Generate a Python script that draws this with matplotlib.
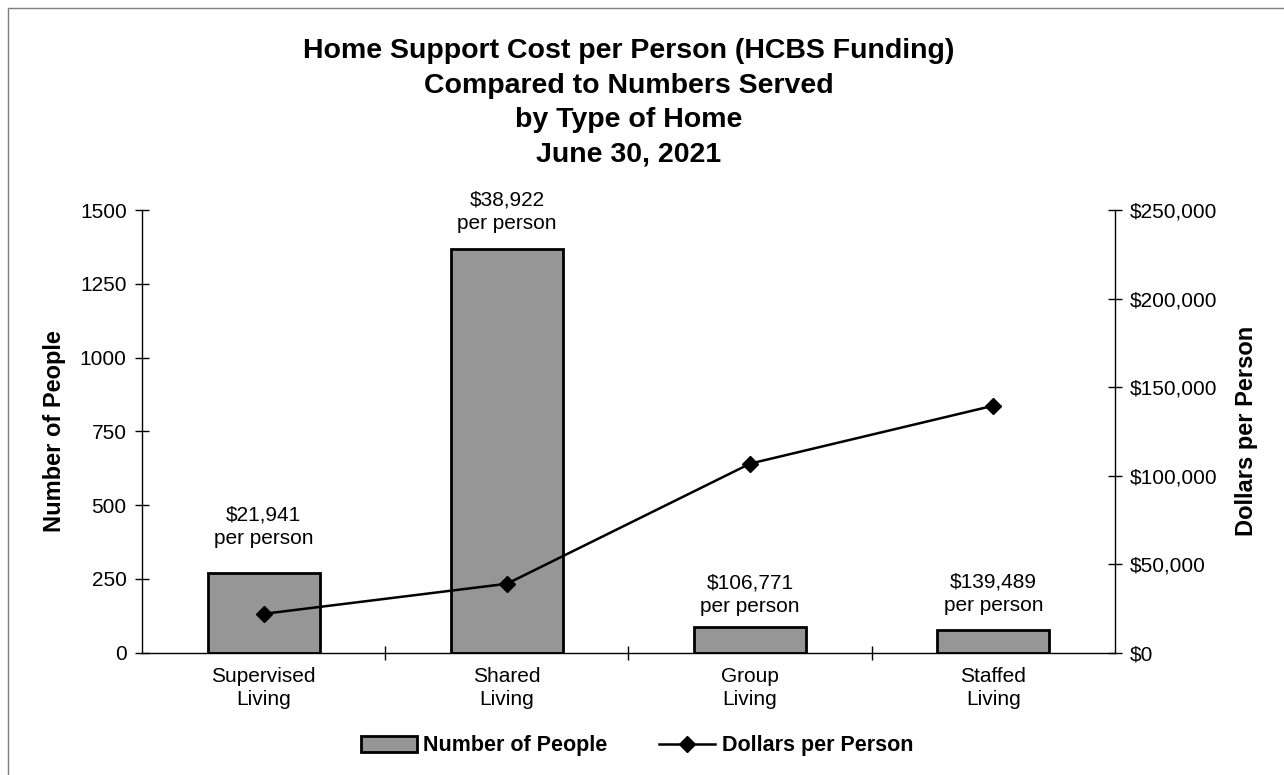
import matplotlib
matplotlib.use("Agg")
import matplotlib.pyplot as plt
from matplotlib.patches import Rectangle
from matplotlib.ticker import FuncFormatter, FixedLocator

categories = ["Supervised\nLiving", "Shared\nLiving", "Group\nLiving", "Staffed\nLiving"]
people = [271, 1369, 86, 76]
dollars = [21941, 38922, 106771, 139489]
left_ticks = [0, 250, 500, 750, 1000, 1250, 1500]
right_ticks = [0, 50000, 100000, 150000, 200000, 250000]
title_lines = ["Home Support Cost per Person (HCBS Funding)",
               "Compared to Numbers Served",
               "by Type of Home",
               "June 30, 2021"]

plt.rcParams["font.family"] = ["Liberation Sans", "DejaVu Sans"]

W, H = 1284, 775
fig = plt.figure(figsize=(W / 100, H / 100), dpi=100)

# outer frame of the chart
fig.patches.append(Rectangle((8 / W, -0.02), 1.05, 1 - 8 / H + 0.02,
                             transform=fig.transFigure, fill=False,
                             edgecolor="#7f7f7f", linewidth=1.0))

ax = fig.add_axes([142 / W, 1 - 652.7 / H, (1115 - 142) / W, (652.7 - 210) / H])
ax2 = ax.twinx()

x = list(range(len(categories)))
bars = ax.bar(x, people, width=0.46, color="#969696", edgecolor="black",
              linewidth=2.0, zorder=2, label="Number of People")
line, = ax2.plot(x, dollars, color="black", linewidth=1.8, marker="D",
                 markersize=8, label="Dollars per Person", zorder=3)

ax.set_xlim(-0.5, len(categories) - 0.5)
ax.set_ylim(0, 1500)
ax2.set_ylim(0, 250000)

for a in (ax, ax2):
    a.patch.set_visible(False)
    a.spines["top"].set_visible(False)
    for s in a.spines.values():
        s.set_linewidth(1.0)
        s.set_color("black")

ax.spines["right"].set_visible(False)
ax2.spines["left"].set_visible(False)
ax2.spines["bottom"].set_visible(False)

ax.set_yticks(left_ticks)
ax2.set_yticks(right_ticks)
ax2.yaxis.set_major_formatter(FuncFormatter(lambda v, p: f"${v:,.0f}"))

ax.set_xticks(x)
ax.set_xticklabels(categories, fontsize=15, linespacing=1.3)
ax.xaxis.set_minor_locator(FixedLocator([i + 0.5 for i in x[:-1]]))
ax.tick_params(axis="x", which="major", length=0, pad=10)
ax.tick_params(axis="x", which="minor", direction="inout", length=10, width=1.0)
ax.tick_params(axis="y", direction="inout", length=10, width=1.0,
               labelsize=15, pad=6)
ax2.tick_params(axis="y", direction="inout", length=10, width=1.0,
                labelsize=15, pad=6)

ax.set_ylabel("Number of People", fontsize=17, fontweight="bold", labelpad=10)
ax2.set_ylabel("Dollars per Person", fontsize=17, fontweight="bold", labelpad=12)

# cost labels above each bar
label_offsets_px = [46, 37, 33, 37]
for xi, n, d, off in zip(x, people, dollars, label_offsets_px):
    ax.annotate(f"${d:,.0f}\nper person", xy=(xi, n), xytext=(0, off * 0.72),
                textcoords="offset points", ha="center", va="center",
                fontsize=15, linespacing=1.3)

fig.text(629 / W, 1 - 103 / H, "\n".join(title_lines), ha="center", va="center",
         fontsize=20.5, fontweight="bold", linespacing=1.42)

fig.legend(handles=[bars, line], loc="center", bbox_to_anchor=(637 / W, 1 - 746 / H),
           ncol=2, frameon=False, prop={"weight": "bold", "size": 15.5},
           handlelength=2.6, handletextpad=0.3, columnspacing=2.4)

fig.savefig("out.png", dpi=100)
